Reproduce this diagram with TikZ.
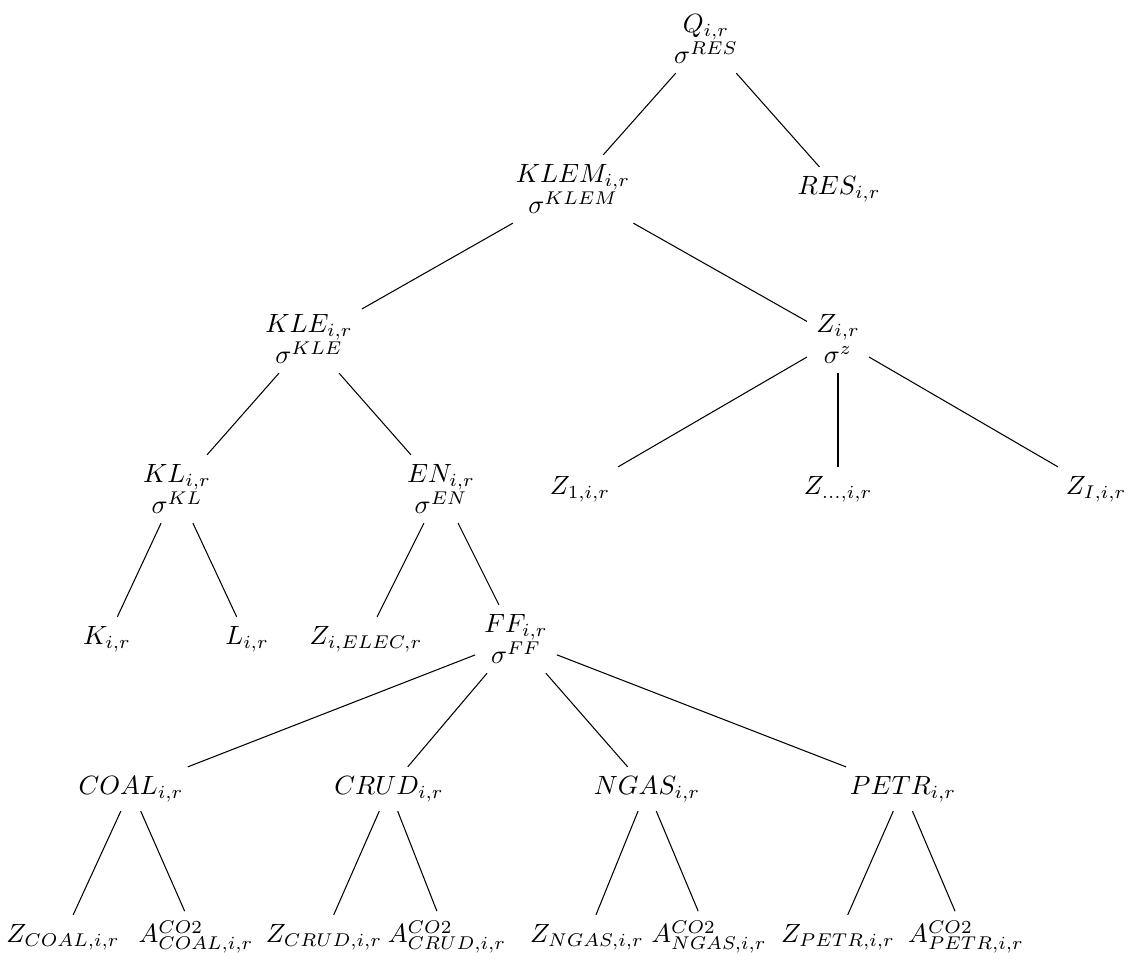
\documentclass[tikz,border=0pt]{standalone}
\begin{document}
\begin{tikzpicture}[x=0.3788pt,y=-0.3788pt,
  tn/.style={align=center},
  edge/.style={draw=black,line width=0.4pt}]
\useasboundingbox (0,0) rectangle (1138,962);
% level 0
\node[tn] (q) at (706,39) {$Q_{i,r}$\\$\sigma^{RES}$};
% level 1
\node[tn] (klem) at (573,189) {$KLEM_{i,r}$\\$\sigma^{KLEM}$};
\node[tn] (res) at (839,189) {$RES_{i,r}$};
% level 2
\node[tn] (kle) at (309,339) {$KLE_{i,r}$\\$\sigma^{KLE}$};
\node[tn] (zir) at (838,339) {$Z_{i,r}$\\$\sigma^{z}$};
% level 3
\node[tn] (kl) at (177,489) {$KL_{i,r}$\\$\sigma^{KL}$};
\node[tn] (en) at (441,489) {$EN_{i,r}$\\$\sigma^{EN}$};
\node[tn] (z1) at (580,489) {$Z_{1,i,r}$};
\node[tn] (zd) at (838,489) {$Z_{...,i,r}$};
\node[tn] (zI) at (1096,489) {$Z_{I,i,r}$};
% level 4
\node[tn] (k) at (107,639) {$K_{i,r}$};
\node[tn] (l) at (247,639) {$L_{i,r}$};
\node[tn] (zel) at (366,639) {$Z_{i,ELEC,r}$};
\node[tn] (ff) at (516,639) {$FF_{i,r}$\\$\sigma^{FF}$};
% level 5
\node[tn] (coal) at (131,789) {$COAL_{i,r}$};
\node[tn] (crud) at (389,789) {$CRUD_{i,r}$};
\node[tn] (ngas) at (647,789) {$NGAS_{i,r}$};
\node[tn] (petr) at (903,789) {$PETR_{i,r}$};
% level 6
\node[tn] (zc) at (63,937) {$Z_{COAL,i,r}$};
\node[tn] (ac) at (196,937) {$A^{CO2}_{COAL,i,r}$};
\node[tn] (zcr) at (324,937) {$Z_{CRUD,i,r}$};
\node[tn] (acr) at (447,937) {$A^{CO2}_{CRUD,i,r}$};
\node[tn] (zn) at (587,937) {$Z_{NGAS,i,r}$};
\node[tn] (an) at (709,937) {$A^{CO2}_{NGAS,i,r}$};
\node[tn] (zp) at (838,937) {$Z_{PETR,i,r}$};
\node[tn] (ap) at (966,937) {$A^{CO2}_{PETR,i,r}$};
% edges
\draw[edge] (q) -- (klem);
\draw[edge] (q) -- (res);
\draw[edge] (klem) -- (kle);
\draw[edge] (klem) -- (zir);
\draw[edge] (kle) -- (kl);
\draw[edge] (kle) -- (en);
\draw[edge] (zir) -- (z1);
\draw[edge] (zir) -- (zd);
\draw[edge] (zir) -- (zI);
\draw[edge] (kl) -- (k);
\draw[edge] (kl) -- (l);
\draw[edge] (en) -- (zel);
\draw[edge] (en) -- (ff);
\draw[edge] (ff) -- (coal);
\draw[edge] (ff) -- (crud);
\draw[edge] (ff) -- (ngas);
\draw[edge] (ff) -- (petr);
\draw[edge] (coal) -- (zc);
\draw[edge] (coal) -- (ac);
\draw[edge] (crud) -- (zcr);
\draw[edge] (crud) -- (acr);
\draw[edge] (ngas) -- (zn);
\draw[edge] (ngas) -- (an);
\draw[edge] (petr) -- (zp);
\draw[edge] (petr) -- (ap);
\end{tikzpicture}
\end{document}
